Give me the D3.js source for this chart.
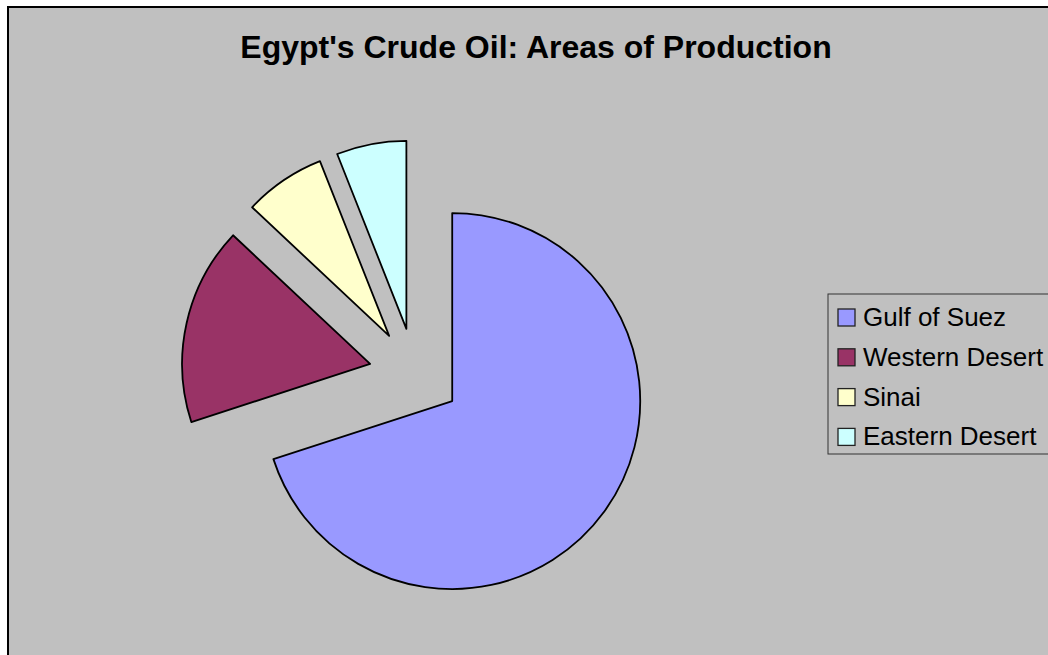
<!DOCTYPE html>
<html>
<head>
<meta charset="utf-8">
<script src="https://cdn.jsdelivr.net/npm/d3@7"></script>
<style>
  html, body { margin: 0; padding: 0; background: #ffffff; }
  svg { display: block; }
</style>
</head>
<body>
<svg id="chart" width="1048" height="655"></svg>
<script>
// Share of crude oil production by area (percent)
const categories = ["Gulf of Suez", "Western Desert", "Sinai", "Eastern Desert"];
const values = [70, 17, 7, 6];
const colors = ["#9999FF", "#993366", "#FFFFCC", "#CCFFFF"];
const title = "Egypt's Crude Oil: Areas of Production";

const svg = d3.select("#chart");
const W = 1048, H = 655;

// Chart area with frame
svg.append("rect")
  .attr("x", 8).attr("y", 7)
  .attr("width", W + 20).attr("height", H + 20)
  .attr("fill", "#C0C0C0")
  .attr("stroke", "#000")
  .attr("stroke-width", 2);

svg.append("text")
  .attr("x", 536).attr("y", 58)
  .attr("text-anchor", "middle")
  .attr("font-family", "Arial, 'Liberation Sans', sans-serif")
  .attr("font-weight", "bold")
  .attr("font-size", 32)
  .attr("fill", "#000")
  .text(title);

// Exploded pie
const cx = 415, cy = 374, radius = 188, explode = 46;
const pie = d3.pie().sort(null).value(d => d)(values);
const arc = d3.arc().innerRadius(0).outerRadius(radius);

const g = svg.append("g").attr("transform", `translate(${cx},${cy})`);
g.selectAll("path")
  .data(pie)
  .join("path")
  .attr("transform", d => {
    const a = (d.startAngle + d.endAngle) / 2;
    return `translate(${explode * Math.sin(a)},${-explode * Math.cos(a)})`;
  })
  .attr("d", arc)
  .attr("fill", (d, i) => colors[i])
  .attr("stroke", "#000")
  .attr("stroke-width", 1.8)
  .attr("stroke-linejoin", "round");

// Legend
const lx = 828, ly = 294;
svg.append("rect")
  .attr("x", lx).attr("y", ly)
  .attr("width", 260).attr("height", 160)
  .attr("fill", "#C0C0C0")
  .attr("stroke", "#333")
  .attr("stroke-width", 1);

const item = svg.append("g").selectAll("g")
  .data(categories)
  .join("g")
  .attr("transform", (d, i) => `translate(${lx + 10},${ly + 15 + i * 39.8})`);

item.append("rect")
  .attr("x", 0).attr("y", 0)
  .attr("width", 17).attr("height", 17)
  .attr("fill", (d, i) => colors[i])
  .attr("stroke", "#222")
  .attr("stroke-width", 1.3);

item.append("text")
  .attr("x", 25).attr("y", 17)
  .attr("font-family", "Arial, 'Liberation Sans', sans-serif")
  .attr("font-size", 26)
  .attr("fill", "#000")
  .text(d => d);
</script>
</body>
</html>
